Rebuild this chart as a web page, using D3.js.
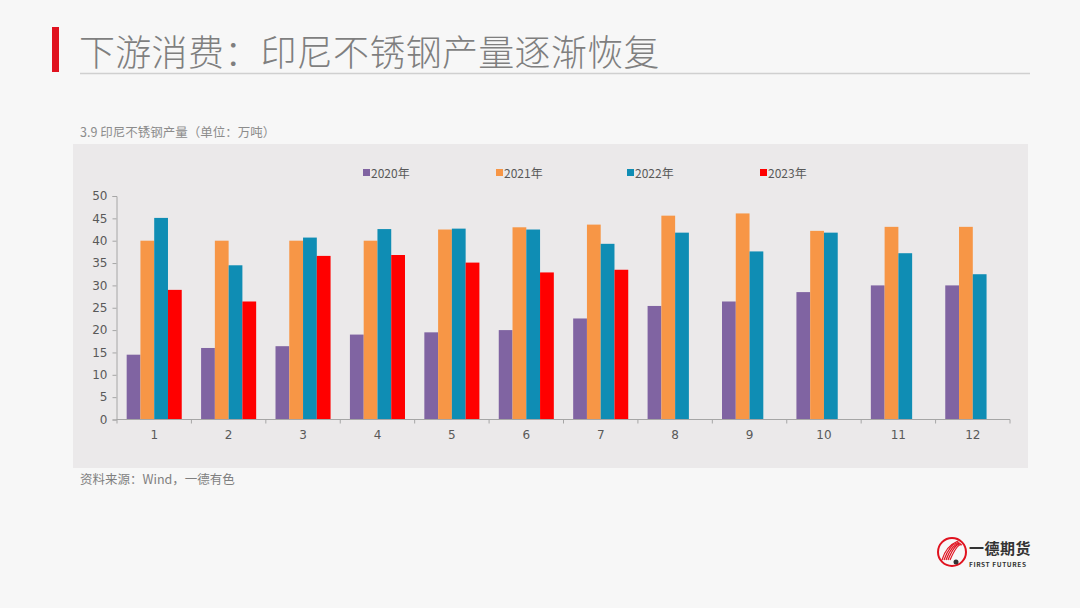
<!DOCTYPE html>
<html><head><meta charset="utf-8">
<script src="https://cdn.jsdelivr.net/npm/d3@7"></script>
<style>
html,body{margin:0;padding:0;background:#f7f7f7;}
svg{display:block;font-family:"Noto Sans CJK SC","Noto Sans",sans-serif;}
</style></head>
<body>
<svg id="c" width="1080" height="608"></svg>
<script>
const months = ["1","2","3","4","5","6","7","8","9","10","11","12"];
const seriesNames = ["2020年","2021年","2022年","2023年"];
const s2020 = [14.5,16.0,16.4,19.0,19.5,20.0,22.6,25.4,26.4,28.5,30.0,30.0];
const s2021 = [40.0,40.0,40.0,40.0,42.5,43.0,43.6,45.6,46.1,42.2,43.1,43.1];
const s2022 = [45.1,34.5,40.7,42.6,42.7,42.5,39.3,41.8,37.6,41.8,37.2,32.5];
const s2023 = [29.0,26.4,36.6,36.8,35.1,32.9,33.5,null,null,null,null,null];
const yTicks = [0,5,10,15,20,25,30,35,40,45,50];
const colors = ["#8064a2","#f79646","#0f8db4","#ff0000"];
const allSeries = [s2020,s2021,s2022,s2023];

const svg = d3.select("#c");
svg.append("rect").attr("width",1080).attr("height",608).attr("fill","#f7f7f7");

// title
svg.append("rect").attr("x",52).attr("y",27).attr("width",7).attr("height",45).attr("fill","#e0121f");
svg.append("text").attr("x",79).attr("y",66).attr("font-size",36).attr("fill","#7f7f7f")
  .attr("letter-spacing",0.3).attr("font-weight",300).text("下游消费：印尼不锈钢产量逐渐恢复");
svg.append("line").attr("x1",80).attr("x2",1030).attr("y1",73.5).attr("y2",73.5)
  .attr("stroke","#d0d0d0").attr("stroke-width",1.5);

// subtitle
svg.append("text").attr("x",80).attr("y",137).attr("font-size",12.5).attr("fill","#8c8c8c")
  .text("3.9 印尼不锈钢产量（单位：万吨）");

// panel
svg.append("rect").attr("x",73).attr("y",144).attr("width",955).attr("height",324).attr("fill","#ebe9ea");

const x = d3.scaleBand().domain(months).range([117,1010]).paddingInner(0.26).paddingOuter(0.13);
const xOuter = d3.scaleBand().domain(months).range([117,1010]);
const x1 = d3.scaleBand().domain(d3.range(4)).range([0,x.bandwidth()]);
const y = d3.scaleLinear().domain([0,50]).range([419.5,196]);

// y axis
const yAxis = svg.append("g").attr("transform","translate(116.5,0)")
  .call(d3.axisLeft(y).tickValues(yTicks).tickSize(4).tickPadding(5));
yAxis.select(".domain").attr("stroke","#a6a6a6");
yAxis.selectAll(".tick line").attr("stroke","#a6a6a6");
yAxis.selectAll("text").attr("font-size",12).attr("fill","#595959").attr("font-family","DejaVu Sans, sans-serif");

// bars
const g = svg.append("g");
allSeries.forEach((s,si)=>{
  g.selectAll(null).data(months.map((m,i)=>({m,v:s[i]})).filter(d=>d.v!=null))
    .enter().append("rect")
    .attr("x",d=>x(d.m)+x1(si))
    .attr("width",x1.bandwidth())
    .attr("y",d=>y(d.v))
    .attr("height",d=>y(0)-y(d.v))
    .attr("fill",colors[si]);
});

// x axis
const xg = svg.append("g").attr("transform","translate(0,419.5)");
xg.append("line").attr("x1",116.5).attr("x2",1010).attr("stroke","#a6a6a6");
const bounds = months.map(m=>xOuter(m)).concat([1010]);
xg.selectAll("line.t").data(bounds).enter().append("line")
  .attr("x1",d=>d).attr("x2",d=>d).attr("y1",0).attr("y2",4).attr("stroke","#a6a6a6");
xg.selectAll("text").data(months).enter().append("text")
  .attr("x",d=>xOuter(d)+xOuter.bandwidth()/2).attr("y",19)
  .attr("text-anchor","middle").attr("font-size",12).attr("fill","#595959")
  .attr("font-family","DejaVu Sans, sans-serif").text(d=>d);

// legend
const legX = [363,496,627,760];
seriesNames.forEach((n,i)=>{
  svg.append("rect").attr("x",legX[i]).attr("y",169).attr("width",7).attr("height",7).attr("fill",colors[i]);
  svg.append("text").attr("x",legX[i]+8).attr("y",177.5).attr("font-size",12).attr("fill","#595959").text(n);
});

// source
svg.append("text").attr("x",80).attr("y",484).attr("font-size",12.5).attr("fill","#7f7f7f")
  .text("资料来源：Wind，一德有色");

// logo
const lg = svg.append("g").attr("transform","translate(952,552)");
lg.append("circle").attr("r",14).attr("fill","none").attr("stroke","#e0121f").attr("stroke-width",2);
[0,1,2,3,4].forEach(i=>{
  lg.append("path").attr("d",`M${-10+i*2},8 Q${-6+i*3},${-6-i} ${6+i},${-11+i}`)
    .attr("fill","none").attr("stroke","#e0121f").attr("stroke-width",1.2);
});
lg.append("circle").attr("cx",4).attr("cy",10).attr("r",2.5).attr("fill","#333");
svg.append("text").attr("x",969).attr("y",554).attr("font-size",15).attr("font-weight","bold")
  .attr("letter-spacing",0.5).attr("fill","#333").text("一德期货");
svg.append("text").attr("x",969).attr("y",567).attr("font-size",6.5).attr("font-weight","bold")
  .attr("fill","#333").attr("letter-spacing",0.6).text("FIRST FUTURES");
</script>
</body></html>
